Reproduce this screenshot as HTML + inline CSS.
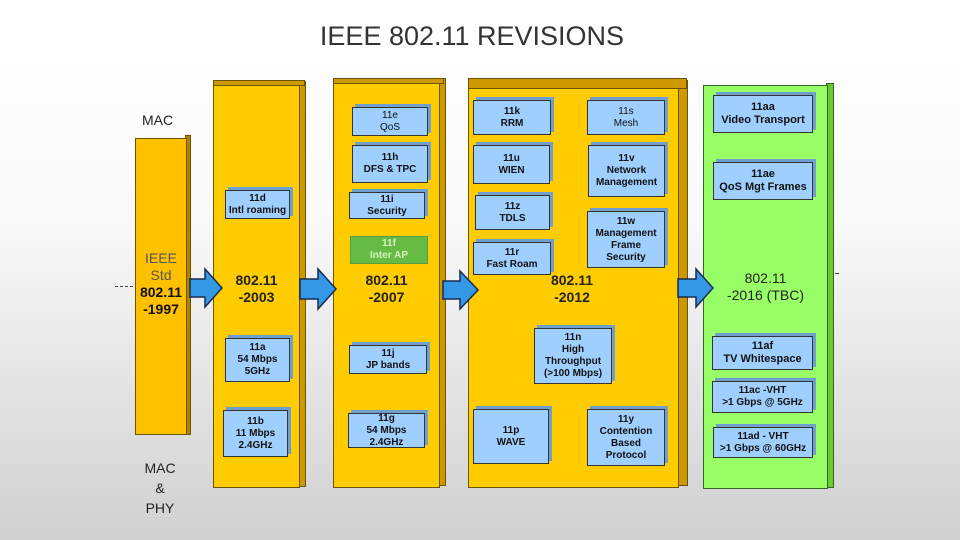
<!DOCTYPE html>
<html><head><meta charset="utf-8"><style>
body{margin:0;width:960px;height:540px;overflow:hidden;position:relative;font-family:"Liberation Sans",sans-serif;
background:linear-gradient(180deg,#fff 0%,#fafafa 40%,#d0d0d0 100%);}
.a{position:absolute}
.col{position:absolute;background:#ffcc00;border:1px solid #6b5500;box-sizing:border-box}
.sd{position:absolute;background:#cc9a00;border:1px solid #6b5500;box-sizing:border-box}
.b{position:absolute;background:#9fcfff;border:1px solid #333;box-sizing:border-box;box-shadow:3px -3px 0 #6f9fcf;
display:flex;align-items:center;justify-content:center;text-align:center;font-weight:bold;font-size:10px;line-height:12px;color:#111}
.lab{position:absolute;text-align:center;font-size:14px;line-height:17px;color:#222}
</style></head><body>
<div class="a" style="left:300px;top:21px;width:344px;text-align:center;font-size:27px;color:#333">IEEE 802.11 REVISIONS</div>
<div class="a" style="left:142px;top:112px;font-size:14px;color:#222">MAC</div>
<div class="a" style="left:140px;top:458px;width:40px;text-align:center;font-size:14px;line-height:20px;color:#222">MAC<br>&amp;<br>PHY</div>
<div class="a" style="left:115px;top:286px;width:18px;border-top:1px dashed #444"></div>
<div class="a" style="left:835px;top:273px;width:4px;border-top:1px solid #444"></div>

<div class="sd" style="left:185px;top:135px;width:6px;height:300px;background:#b08000"></div>
<div class="col" style="left:135px;top:138px;width:52px;height:297px;background:#ffc000"></div>
<div class="lab" style="left:135px;top:250px;width:52px;font-size:14px;color:#555">IEEE<br>Std<br><b style="color:#111">802.11<br>-1997</b></div>

<div class="sd" style="left:298px;top:81px;width:8px;height:406px"></div>
<div class="col" style="left:213px;top:85px;width:87px;height:403px"></div>
<div class="sd" style="left:213px;top:80px;width:92px;height:6px"></div>
<div class="lab" style="left:213px;top:272px;width:87px;font-weight:bold">802.11<br>-2003</div>

<div class="sd" style="left:438px;top:78px;width:8px;height:408px"></div>
<div class="col" style="left:333px;top:83px;width:107px;height:405px"></div>
<div class="sd" style="left:333px;top:78px;width:111px;height:6px"></div>
<div class="lab" style="left:333px;top:272px;width:107px;font-weight:bold">802.11<br>-2007</div>

<div class="sd" style="left:677px;top:80px;width:11px;height:406px"></div>
<div class="col" style="left:468px;top:88px;width:211px;height:400px"></div>
<div class="sd" style="left:468px;top:78px;width:219px;height:11px"></div>
<div class="lab" style="left:540px;top:272px;width:64px;font-weight:bold">802.11<br>-2012</div>

<div class="sd" style="left:826px;top:83px;width:8px;height:405px;background:#66cc33;border-color:#336622"></div>
<div class="col" style="left:703px;top:85px;width:125px;height:404px;background:#99ff66;border-color:#336622"></div>
<div class="lab" style="left:703px;top:270px;width:125px;font-size:14px">802.11<br>-2016 (TBC)</div>

<svg class="a" style="left:0;top:0" width="960" height="540">
<g fill="#3399e6" stroke="#1a2a50" stroke-width="1.5">
<polygon points="190,279 205,279 205,269 222,288 205,307 205,297 190,297"/>
<polygon points="300,279 318,279 318,269 336,289 318,309 318,299 300,299"/>
<polygon points="443,281 460,281 460,271 478,290 460,309 460,299 443,299"/>
<polygon points="678,279 696,279 696,269 713,288 696,307 696,297 678,297"/>
</g></svg>

<div class="b" style="left:225px;top:190px;width:65px;height:29px">11d<br>Intl roaming</div>
<div class="b" style="left:225px;top:338px;width:65px;height:44px">11a<br>54 Mbps<br>5GHz</div>
<div class="b" style="left:223px;top:410px;width:65px;height:47px">11b<br>11 Mbps<br>2.4GHz</div>

<div class="b" style="left:352px;top:107px;width:76px;height:29px;font-weight:normal">11e<br>QoS</div>
<div class="b" style="left:352px;top:145px;width:76px;height:38px">11h<br>DFS &amp; TPC</div>
<div class="b" style="left:349px;top:192px;width:76px;height:27px">11i<br>Security</div>
<div class="b" style="left:350px;top:236px;width:78px;height:28px;background:#66bb44;box-shadow:none;border-color:#5a9a40;color:#d8f0c0">11f<br>Inter AP</div>
<div class="b" style="left:349px;top:345px;width:78px;height:29px">11j<br>JP bands</div>
<div class="b" style="left:348px;top:413px;width:77px;height:35px">11g<br>54 Mbps<br>2.4GHz</div>

<div class="b" style="left:473px;top:100px;width:78px;height:35px">11k<br>RRM</div>
<div class="b" style="left:587px;top:100px;width:78px;height:35px;font-weight:normal">11s<br>Mesh</div>
<div class="b" style="left:473px;top:145px;width:77px;height:39px">11u<br>WIEN</div>
<div class="b" style="left:588px;top:145px;width:77px;height:52px">11v<br>Network<br>Management</div>
<div class="b" style="left:475px;top:195px;width:75px;height:35px">11z<br>TDLS</div>
<div class="b" style="left:587px;top:211px;width:78px;height:57px">11w<br>Management<br>Frame<br>Security</div>
<div class="b" style="left:473px;top:242px;width:78px;height:33px">11r<br>Fast Roam</div>
<div class="b" style="left:534px;top:328px;width:78px;height:56px">11n<br>High<br>Throughput<br>(&gt;100 Mbps)</div>
<div class="b" style="left:473px;top:409px;width:76px;height:55px">11p<br>WAVE</div>
<div class="b" style="left:587px;top:409px;width:78px;height:57px">11y<br>Contention<br>Based<br>Protocol</div>

<div class="b" style="left:713px;top:95px;width:100px;height:38px;font-size:11px;line-height:13px">11aa<br>Video Transport</div>
<div class="b" style="left:713px;top:162px;width:100px;height:38px;font-size:11px;line-height:13px">11ae<br>QoS Mgt Frames</div>
<div class="b" style="left:712px;top:336px;width:101px;height:34px;font-size:11px;line-height:13px">11af<br>TV Whitespace</div>
<div class="b" style="left:712px;top:381px;width:101px;height:32px">11ac -VHT<br>&gt;1 Gbps @ 5GHz</div>
<div class="b" style="left:713px;top:427px;width:100px;height:31px">11ad - VHT<br>&gt;1 Gbps @ 60GHz</div>
</body></html>
